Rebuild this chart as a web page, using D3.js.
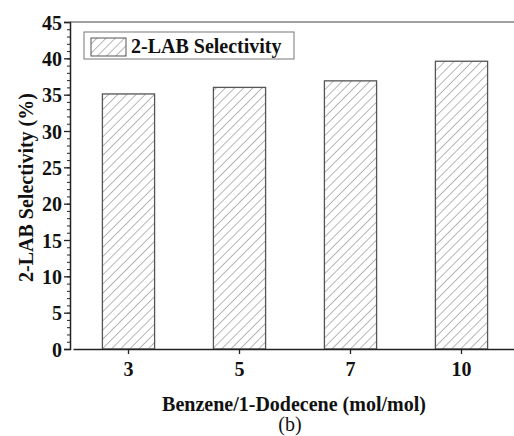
<!DOCTYPE html>
<meta charset="utf-8">
<script src="https://cdn.jsdelivr.net/npm/d3@7"></script>
<style>
body { margin: 0; background: #fff; }
text { font-family: "Liberation Serif", "Times New Roman", serif; fill: #111; }
.bar { fill: url(#hatch); stroke: #555; stroke-width: 1.3; }
</style>
<body>
</body>
<script>
var ratios = ["3", "5", "7", "10"];
var selectivity = [35.1, 36.0, 36.9, 39.6];
var yTicks = [0, 5, 10, 15, 20, 25, 30, 35, 40, 45];
var seriesName = "2-LAB Selectivity";

var W = 514, H = 436;
var margin = {top: 22, right: -3, bottom: 87, left: 70};
var width = W - margin.left - margin.right,
    height = H - margin.top - margin.bottom;

var svg = d3.select("body").append("svg")
    .attr("width", W)
    .attr("height", H);

var defs = svg.append("defs");
var pat = defs.append("pattern")
    .attr("id", "hatch")
    .attr("patternUnits", "userSpaceOnUse")
    .attr("width", 6.5).attr("height", 6.5)
    .attr("patternTransform", "rotate(45)");
pat.append("rect").attr("width", 6.5).attr("height", 6.5).attr("fill", "#fff");
pat.append("line")
    .attr("x1", 0).attr("y1", 0).attr("x2", 0).attr("y2", 6.5)
    .attr("stroke", "#7a7a7a").attr("stroke-width", 1.1);

var g = svg.append("g")
    .attr("transform", "translate(" + margin.left + "," + margin.top + ")");

var x = d3.scaleBand()
    .domain(ratios)
    .range([3, width])
    .paddingInner(0.53)
    .paddingOuter(0.265);

var y = d3.scaleLinear()
    .domain([0, 45])
    .range([height, 0]);

// bars
g.selectAll(".bar")
    .data(selectivity)
  .enter().append("rect")
    .attr("class", "bar")
    .attr("x", function(d, i) { return x(ratios[i]); })
    .attr("y", function(d) { return y(d); })
    .attr("width", x.bandwidth())
    .attr("height", function(d) { return height - y(d); });

// minor y ticks
var yMinor = g.append("g")
    .call(d3.axisLeft(y).tickValues(d3.range(0, 46, 1)).tickSize(3).tickFormat(""));
yMinor.select(".domain").remove();
yMinor.selectAll("line").attr("stroke", "#222");

// y axis
var yAxis = g.append("g")
    .call(d3.axisLeft(y).tickValues(yTicks).tickSize(6).tickPadding(2));
yAxis.select(".domain").attr("stroke", "#222").attr("stroke-width", 1.5);
yAxis.selectAll("line").attr("stroke", "#222").attr("stroke-width", 1.3);
yAxis.selectAll("text")
    .attr("font-size", "20px")
    .attr("font-weight", "bold")
    .attr("dy", "0.35em");

// x axis
var xAxis = g.append("g")
    .attr("transform", "translate(0," + height + ")")
    .call(d3.axisBottom(x).tickSize(5).tickPadding(8).tickSizeOuter(0));
xAxis.select(".domain").attr("stroke", "#222").attr("stroke-width", 1.5);
xAxis.selectAll("line").attr("stroke", "#222").attr("stroke-width", 1.3);
xAxis.selectAll("text")
    .attr("font-size", "20px")
    .attr("font-weight", "bold");

// top frame line
g.append("line")
    .attr("x1", 0).attr("x2", width)
    .attr("y1", 0).attr("y2", 0)
    .attr("stroke", "#444").attr("stroke-width", 1.2);

// legend
var leg = g.append("g").attr("transform", "translate(14,10)");
leg.append("rect")
    .attr("width", 210).attr("height", 27)
    .attr("fill", "#fff").attr("stroke", "#777").attr("stroke-width", 1);
leg.append("rect")
    .attr("x", 7).attr("y", 6).attr("width", 35).attr("height", 18)
    .attr("fill", "url(#hatch)").attr("stroke", "#555").attr("stroke-width", 1);
leg.append("text")
    .attr("x", 47).attr("y", 21)
    .attr("font-size", "20px")
    .attr("font-weight", "bold")
    .text(seriesName);

// axis titles
svg.append("text")
    .attr("transform", "translate(33," + (margin.top + height / 2 + 2) + ") rotate(-90)")
    .attr("text-anchor", "middle")
    .attr("font-size", "20px")
    .attr("font-weight", "bold")
    .text("2-LAB Selectivity (%)");

svg.append("text")
    .attr("x", 294).attr("y", 411)
    .attr("text-anchor", "middle")
    .attr("font-size", "20px")
    .attr("font-weight", "bold")
    .text("Benzene/1-Dodecene (mol/mol)");

svg.append("text")
    .attr("x", 290).attr("y", 431)
    .attr("text-anchor", "middle")
    .attr("font-size", "20px")
    .text("(b)");
</script>
